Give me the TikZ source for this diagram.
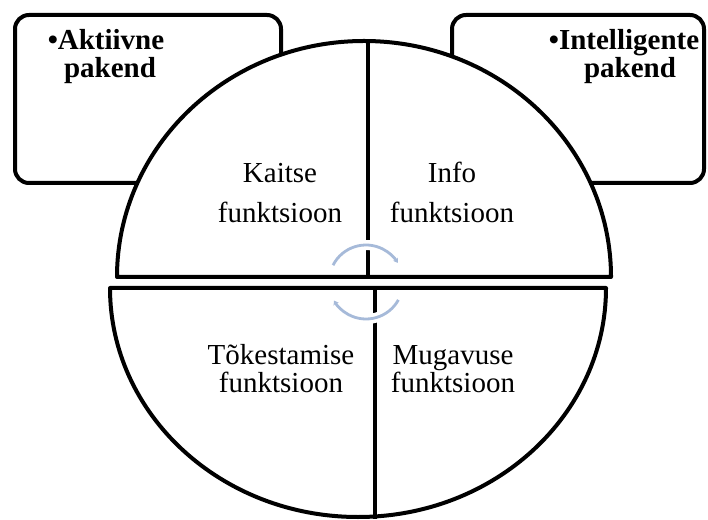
\documentclass[tikz,border=0pt]{standalone}
\usepackage{fontspec}
\setmainfont{Liberation Serif}
\usetikzlibrary{arrows.meta}
\definecolor{cyclearrow}{RGB}{166,186,217}
\begin{document}
\begin{tikzpicture}[x=1pt,y=1pt,
  outline/.style={line width=4pt, line join=round},
  roundbox/.style={outline, rounded corners=14pt},
  halfdisc/.style={outline, fill=white},
  divider/.style={line width=4pt},
  halo/.style={white, line width=10pt},
  cyc/.style={cyclearrow, line width=2.8pt, -{Stealth[length=4.5pt,width=6pt]}},
  lbl/.style={font=\fontsize{29}{29}\selectfont, anchor=base, inner sep=0pt},
  head/.style={font=\fontsize{29}{29}\selectfont\bfseries, anchor=base, inner sep=0pt}]
\useasboundingbox (0,0) rectangle (708,519);

% two packaging categories behind the disc
\draw[roundbox] (15,336) rectangle (281,504);
\draw[roundbox] (452,336) rectangle (704,504);

% upper and lower halves of the function disc
\draw[halfdisc] (117,242) arc[start angle=180,end angle=0,x radius=247,y radius=236] -- cycle;
\draw[halfdisc] (110,231) arc[start angle=180,end angle=360,x radius=248,y radius=229] -- cycle;

% quadrant dividers
\draw[divider] (368,242) -- (368,478);
\draw[divider] (375,231) -- (375,0);

% cycle arrows in the middle
\draw[halo] (366,237) ++(153:37) arc[start angle=153,end angle=31,radius=37];
\draw[cyc]  (366,237) ++(153:37) arc[start angle=153,end angle=31,radius=37];
\draw[halo] (366,237) ++(331:37) arc[start angle=331,end angle=210,radius=37];
\draw[cyc]  (366,237) ++(331:37) arc[start angle=331,end angle=210,radius=37];

% quadrant labels
\node[lbl] (kaitse1) at (280,336) {Kaitse};
\node[lbl] (kaitse2) at (280,296) {funktsioon};
\node[lbl] (info1) at (452,336) {Info};
\node[lbl] (info2) at (452,296) {funktsioon};
\node[lbl] (tok1) at (281,154) {Tõkestamise};
\node[lbl] (tok2) at (281,126) {funktsioon};
\node[lbl] (mug1) at (453,154) {Mugavuse};
\node[lbl] (mug2) at (453,126) {funktsioon};

% category labels
\node[head] (akt1) at (106,469) {\textbullet Aktiivne};
\node[head] (akt2) at (110,441) {pakend};
\node[head] (int1) at (624,469) {\textbullet Intelligente};
\node[head] (int2) at (630,441) {pakend};
\end{tikzpicture}
\end{document}
